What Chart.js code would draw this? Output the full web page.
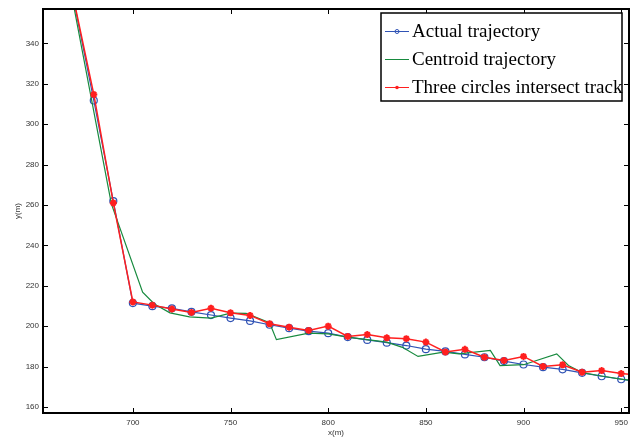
<!DOCTYPE html>
<html>
<head>
<meta charset="utf-8">
<script src="https://cdn.jsdelivr.net/npm/chart.js@4.4.1/dist/chart.umd.min.js"></script>
<style>
  html, body { margin: 0; padding: 0; background: #fff; }
  #wrap { width: 642px; height: 439px; }
</style>
</head>
<body>
<div id="wrap"><canvas id="c" width="642" height="439"></canvas></div>
<script>
// ---- data ----
const actualX = [660,670,680,690,700,710,720,730,740,750,760,770,780,790,800,810,820,830,840,850,860,870,880,890,900,910,920,930,940,950,960];
const actualY = [408,360,311.7,261.9,211.4,209.9,208.8,207.1,205.5,204.0,202.6,200.7,199.0,197.5,196.5,194.6,193.2,191.8,190.4,188.6,187.5,186.0,184.6,182.7,181.0,179.7,178.6,176.9,175.2,173.7,172.3];
const threeY  = [402,360.5,314.7,261.0,212.0,210.4,208.5,206.8,208.9,206.6,205.3,201.2,199.5,197.9,200.0,194.9,195.8,194.2,193.8,192.1,187.2,188.5,184.6,183.0,185.0,180.0,180.9,177.2,178.0,176.5,175.8];
const centroidX = [660,689,705,711,719,729,740,750,758,770,773.5,790,800,810,820,830,838,846,859,867,883,888,900,917,923,930,940,950,960];
const centroidY = [408,260.5,216.8,211.0,206.6,204.6,204.0,206.4,206.3,201.7,193.3,196.5,196.2,194.6,193.3,192.1,189.5,185.0,187.1,186.3,188.0,180.5,180.9,186.3,180.5,177.0,175.3,173.8,172.5];
const xTicks = [700,750,800,850,900,950];
const yTicks = [160,180,200,220,240,260,280,300,320,340];
const seriesNames = ['Actual trajectory','Centroid trajectory','Three circles intersect track'];

const BLUE = '#3053b5', GREEN = '#178a3e', RED = '#ff1f1f';

const pts = (xs, ys) => xs.map((x, i) => ({x: x, y: ys[i]}));

const framePlugin = {
  id: 'frame',
  afterDatasetsDraw(chart) {
    const ctx = chart.ctx, a = chart.chartArea;
    const xs = chart.scales.x, ys = chart.scales.y;
    ctx.save();
    ctx.strokeStyle = '#000';
    ctx.lineWidth = 1;
    const tl = 5;
    ctx.beginPath();
    xTicks.forEach(v => {
      const p = Math.round(xs.getPixelForValue(v)) + 0.5;
      ctx.moveTo(p, a.bottom); ctx.lineTo(p, a.bottom - tl);
      ctx.moveTo(p, a.top); ctx.lineTo(p, a.top + tl);
    });
    yTicks.forEach(v => {
      const p = Math.round(ys.getPixelForValue(v)) + 0.5;
      ctx.moveTo(a.left, p); ctx.lineTo(a.left + tl, p);
      ctx.moveTo(a.right, p); ctx.lineTo(a.right - tl, p);
    });
    ctx.stroke();
    ctx.lineWidth = 2;
    ctx.strokeRect(a.left, a.top, a.right - a.left, a.bottom - a.top);

    // legend box (inside plot, top-right)
    const bx = 381, by = 13, bw = 241, bh = 88;
    ctx.fillStyle = '#fff';
    ctx.fillRect(bx, by, bw, bh);
    ctx.lineWidth = 1.5;
    ctx.strokeStyle = '#000';
    ctx.strokeRect(bx, by, bw, bh);
    const rows = [31, 59, 87];
    const colors = [BLUE, GREEN, RED];
    ctx.font = '19px "Liberation Serif", "Times New Roman", serif';
    ctx.textBaseline = 'middle';
    ctx.textAlign = 'left';
    rows.forEach((ry, i) => {
      ctx.strokeStyle = colors[i];
      ctx.lineWidth = 1;
      ctx.beginPath();
      ctx.moveTo(385, ry + 0.5); ctx.lineTo(409, ry + 0.5);
      ctx.stroke();
      if (i === 0) {
        ctx.beginPath(); ctx.arc(397, ry + 0.5, 2, 0, Math.PI * 2); ctx.stroke();
      } else if (i === 2) {
        ctx.fillStyle = RED;
        ctx.beginPath(); ctx.arc(397, ry + 0.5, 1.8, 0, Math.PI * 2); ctx.fill();
      }
      ctx.fillStyle = '#000';
      ctx.fillText(seriesNames[i], 412, ry + 1);
    });
    ctx.restore();
  }
};

const bgPlugin = {
  id: 'bg',
  beforeDraw(chart) {
    const ctx = chart.ctx;
    ctx.save(); ctx.fillStyle = '#fff'; ctx.fillRect(0, 0, chart.width, chart.height); ctx.restore();
  }
};

new Chart(document.getElementById('c'), {
  type: 'line',
  data: {
    datasets: [
      { label: seriesNames[0], data: pts(actualX, actualY), borderColor: BLUE, backgroundColor: 'rgba(0,0,0,0)',
        borderWidth: 1.2, pointStyle: 'circle', pointRadius: 3.5, pointBorderWidth: 1.2, pointBorderColor: BLUE, pointBackgroundColor: 'rgba(255,255,255,0)', tension: 0, order: 3 },
      { label: seriesNames[1], data: pts(centroidX, centroidY), borderColor: GREEN, backgroundColor: 'rgba(0,0,0,0)',
        borderWidth: 1.2, pointRadius: 0, tension: 0, order: 2 },
      { label: seriesNames[2], data: pts(actualX, threeY), borderColor: RED, backgroundColor: RED,
        borderWidth: 1.5, pointStyle: 'star', pointRadius: 3.5, pointBorderWidth: 2, pointBorderColor: RED, tension: 0, order: 1 }
    ]
  },
  options: {
    responsive: false,
    animation: false,
    devicePixelRatio: 1,
    layout: { padding: { left: 0, top: 9, right: 13, bottom: 0 } },
    plugins: { legend: { display: false }, tooltip: { enabled: false } },
    scales: {
      x: {
        type: 'linear', min: 654, max: 954,
        afterBuildTicks: s => { s.ticks = xTicks.map(v => ({ value: v })); },
        afterFit: s => { s.height = 26; },
        grid: { display: false, drawTicks: false },
        border: { display: false },
        ticks: { padding: 5, color: '#333', font: { family: '"Liberation Sans", Arial, sans-serif', size: 8 }, maxRotation: 0 },
        title: { display: true, text: 'x(m)', color: '#333', font: { family: '"Liberation Sans", Arial, sans-serif', size: 8 }, padding: { top: 1, bottom: 1 } }
      },
      y: {
        type: 'linear', min: 157, max: 357,
        afterBuildTicks: s => { s.ticks = yTicks.map(v => ({ value: v })); },
        afterFit: s => { s.width = 43; },
        grid: { display: false, drawTicks: false },
        border: { display: false },
        ticks: { padding: 4, color: '#333', font: { family: '"Liberation Sans", Arial, sans-serif', size: 8 } },
        title: { display: true, text: 'y(m)', color: '#333', font: { family: '"Liberation Sans", Arial, sans-serif', size: 8 }, padding: { top: 13, bottom: 0 } }
      }
    }
  },
  plugins: [bgPlugin, framePlugin]
});
</script>
</body>
</html>
